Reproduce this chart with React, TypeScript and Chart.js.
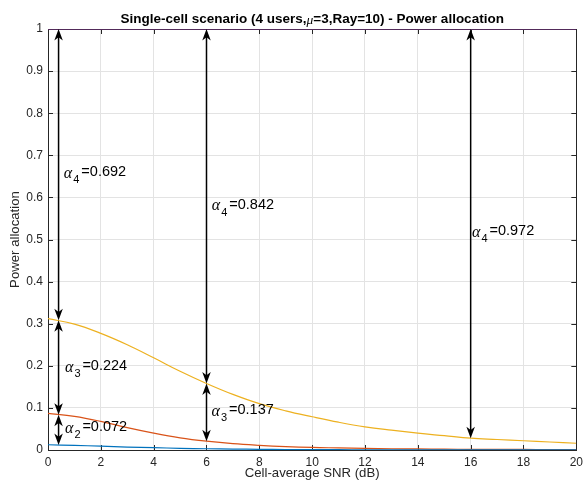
import React, { useEffect, useRef } from "react";
import { Chart, registerables } from "chart.js";

Chart.register(...registerables);

const snr = [0, 1, 2, 3, 4, 5, 6, 7, 8, 9, 10, 11, 12, 13, 14, 15, 16, 17, 18, 19, 20];
const cumAlpha1 = [0.0125, 0.011, 0.009, 0.007, 0.0055, 0.004, 0.003, 0.0022, 0.0016, 0.0012, 0.0009, 0.0007, 0.0005, 0.0004, 0.0003, 0.00025, 0.0002, 0.00015, 0.00012, 0.0001, 0.0001];
const cumAlpha12 = [0.087, 0.080, 0.068, 0.053, 0.040, 0.029, 0.021, 0.015, 0.011, 0.008, 0.006, 0.005, 0.004, 0.003, 0.0025, 0.002, 0.0017, 0.0015, 0.0013, 0.0011, 0.001];
const cumAlpha123 = [0.312, 0.299, 0.277, 0.250, 0.219, 0.187, 0.158, 0.132, 0.110, 0.093, 0.079, 0.066, 0.055, 0.047, 0.040, 0.034, 0.028, 0.025, 0.022, 0.019, 0.016];
const cumAlpha1234 = [1, 1, 1, 1, 1, 1, 1, 1, 1, 1, 1, 1, 1, 1, 1, 1, 1, 1, 1, 1, 1];

const xTickLabels = ["0", "2", "4", "6", "8", "10", "12", "14", "16", "18", "20"];
const yTickLabels = ["0", "0.1", "0.2", "0.3", "0.4", "0.5", "0.6", "0.7", "0.8", "0.9", "1"];

const arrowX = [0.4, 0.4, 0.4, 6, 6, 16];
const arrowTop = [1, 0.308, 0.084, 1, 0.158, 1];
const arrowBottom = [0.308, 0.084, 0.012, 0.158, 0.021, 0.028];

const labelSub = ["4", "3", "2", "4", "3", "4"];
const labelVal = ["0.692", "0.224", "0.072", "0.842", "0.137", "0.972"];
const labelX = [0.6, 0.64, 0.64, 6.2, 6.19, 16.05];
const labelY = [0.66, 0.2, 0.055, 0.583, 0.094, 0.52];

const titleParts = ["Single-cell scenario (4 users,", "\u03bc", "=3,Ray=10) - Power allocation"];
const xTitle = "Cell-average SNR (dB)";
const yTitle = "Power allocation";

const AX = "#262626";
const SANS = "'Liberation Sans', Arial, Helvetica, sans-serif";
const SERIF = "'Liberation Serif', 'DejaVu Serif', serif";

function drawHead(ctx: CanvasRenderingContext2D, x: number, y: number, dir: number) {
  // dir = -1 points up, +1 points down
  const L = 11.5;
  const W = 8.5;
  ctx.beginPath();
  ctx.moveTo(x, y);
  ctx.lineTo(x - W / 2, y - dir * L);
  ctx.lineTo(x, y - dir * L * 0.72);
  ctx.lineTo(x + W / 2, y - dir * L);
  ctx.closePath();
  ctx.fill();
}

const matlabPlugin = {
  id: "matlabStyle",
  beforeDatasetsDraw(chart: any) {
    const { ctx, chartArea: a, scales } = chart;
    ctx.save();
    ctx.strokeStyle = AX;
    ctx.lineWidth = 1;
    ctx.strokeRect(Math.round(a.left) + 0.5, Math.round(a.top) + 0.5, Math.round(a.right - a.left), Math.round(a.bottom - a.top));
    const tl = 5;
    const xs = scales.x;
    xs.ticks.forEach((t: any) => {
      const px = Math.round(xs.getPixelForValue(t.value)) + 0.5;
      ctx.beginPath();
      ctx.moveTo(px, a.bottom);
      ctx.lineTo(px, a.bottom - tl);
      ctx.moveTo(px, a.top);
      ctx.lineTo(px, a.top + tl);
      ctx.stroke();
    });
    const ys = scales.y;
    ys.ticks.forEach((t: any) => {
      const py = Math.round(ys.getPixelForValue(t.value)) + 0.5;
      ctx.beginPath();
      ctx.moveTo(a.left, py);
      ctx.lineTo(a.left + tl, py);
      ctx.moveTo(a.right, py);
      ctx.lineTo(a.right - tl, py);
      ctx.stroke();
    });
    ctx.restore();
  },
  afterDatasetsDraw(chart: any) {
    const { ctx, chartArea: a, scales } = chart;
    const xs = scales.x;
    const ys = scales.y;
    ctx.save();
    // arrows
    ctx.strokeStyle = "#000";
    ctx.fillStyle = "#000";
    ctx.lineWidth = 1.5;
    for (let i = 0; i < arrowX.length; i++) {
      const px = xs.getPixelForValue(arrowX[i]);
      const y1 = ys.getPixelForValue(arrowTop[i]);
      const y2 = ys.getPixelForValue(arrowBottom[i]);
      ctx.beginPath();
      ctx.moveTo(px, y1 + 6);
      ctx.lineTo(px, y2 - 6);
      ctx.stroke();
      drawHead(ctx, px, y1, -1);
      drawHead(ctx, px, y2, 1);
    }
    // labels
    ctx.textBaseline = "middle";
    ctx.textAlign = "left";
    for (let i = 0; i < labelVal.length; i++) {
      const px = xs.getPixelForValue(labelX[i]);
      const py = ys.getPixelForValue(labelY[i]);
      ctx.font = `italic 16px ${SERIF}`;
      ctx.fillStyle = "#000";
      ctx.fillText("\u03b1", px, py + 1.5);
      ctx.font = `11px ${SANS}`;
      ctx.fillText(labelSub[i], px + 9.5, py + 8);
      ctx.font = `14.5px ${SANS}`;
      ctx.fillText("=" + labelVal[i], px + 17.5, py);
    }
    // title
    ctx.fillStyle = "#000";
    ctx.textBaseline = "middle";
    const boldF = `bold 13.5px ${SANS}`;
    const muF = `italic 13.5px ${SERIF}`;
    ctx.font = boldF;
    const w0 = ctx.measureText(titleParts[0]).width;
    const w2 = ctx.measureText(titleParts[2]).width;
    ctx.font = muF;
    const w1 = ctx.measureText(titleParts[1]).width;
    const total = w0 + w1 + w2;
    let tx = (a.left + a.right) / 2 - total / 2;
    const ty = 19;
    ctx.font = boldF;
    ctx.fillText(titleParts[0], tx, ty);
    tx += w0;
    ctx.font = muF;
    ctx.fillText(titleParts[1], tx, ty + 1);
    tx += w1;
    ctx.font = boldF;
    ctx.fillText(titleParts[2], tx, ty);
    // axis titles
    ctx.fillStyle = AX;
    ctx.font = `13.2px ${SANS}`;
    ctx.textAlign = "center";
    ctx.fillText(xTitle, (a.left + a.right) / 2, 473);
    ctx.translate(15, (a.top + a.bottom) / 2);
    ctx.rotate(-Math.PI / 2);
    ctx.fillText(yTitle, 0, 0);
    ctx.restore();
  },
};

export default function App() {
  const ref = useRef<HTMLCanvasElement>(null);
  useEffect(() => {
    if (!ref.current) return;
    const mk = (data: number[], color: string) => ({
      data: snr.map((x, i) => ({ x, y: data[i] })),
      borderColor: color,
      borderWidth: 1.2,
      pointRadius: 0,
      tension: 0.4,
      fill: false,
    });
    const chart = new Chart(ref.current, {
      type: "line",
      data: {
        datasets: [
          mk(cumAlpha1, "#0072BD"),
          mk(cumAlpha12, "#D95319"),
          mk(cumAlpha123, "#EDB120"),
          mk(cumAlpha1234, "#7E2F8E"),
        ],
      },
      options: {
        animation: false,
        responsive: false,
        devicePixelRatio: 1,
        layout: { padding: { top: 29, right: 8, left: 0, bottom: 0 } },
        plugins: { legend: { display: false }, tooltip: { enabled: false }, title: { display: false } },
        scales: {
          x: {
            type: "linear",
            min: 0,
            max: 20,
            ticks: {
              stepSize: 2,
              color: AX,
              font: { family: SANS, size: 12 },
              padding: 5,
              maxRotation: 0,
              callback: (_v: any, i: number) => xTickLabels[i],
            },
            grid: { color: "#e3e3e3", drawTicks: false, lineWidth: 1 },
            border: { display: false },
            afterFit: (s: any) => { s.height = 37; },
          },
          y: {
            type: "linear",
            min: 0,
            max: 1,
            ticks: {
              stepSize: 0.1,
              color: AX,
              font: { family: SANS, size: 12 },
              padding: 5,
              callback: (_v: any, i: number) => yTickLabels[i],
            },
            grid: { color: "#e3e3e3", drawTicks: false, lineWidth: 1 },
            border: { display: false },
            afterFit: (s: any) => { s.width = 48; },
          },
        },
      },
      plugins: [matlabPlugin],
    });
    return () => chart.destroy();
  }, []);
  return (
    <div style={{ position: "fixed", left: 0, top: 0, width: 588, height: 487, background: "#fff" }}>
      <canvas ref={ref} width={588} height={487} />
    </div>
  );
}
